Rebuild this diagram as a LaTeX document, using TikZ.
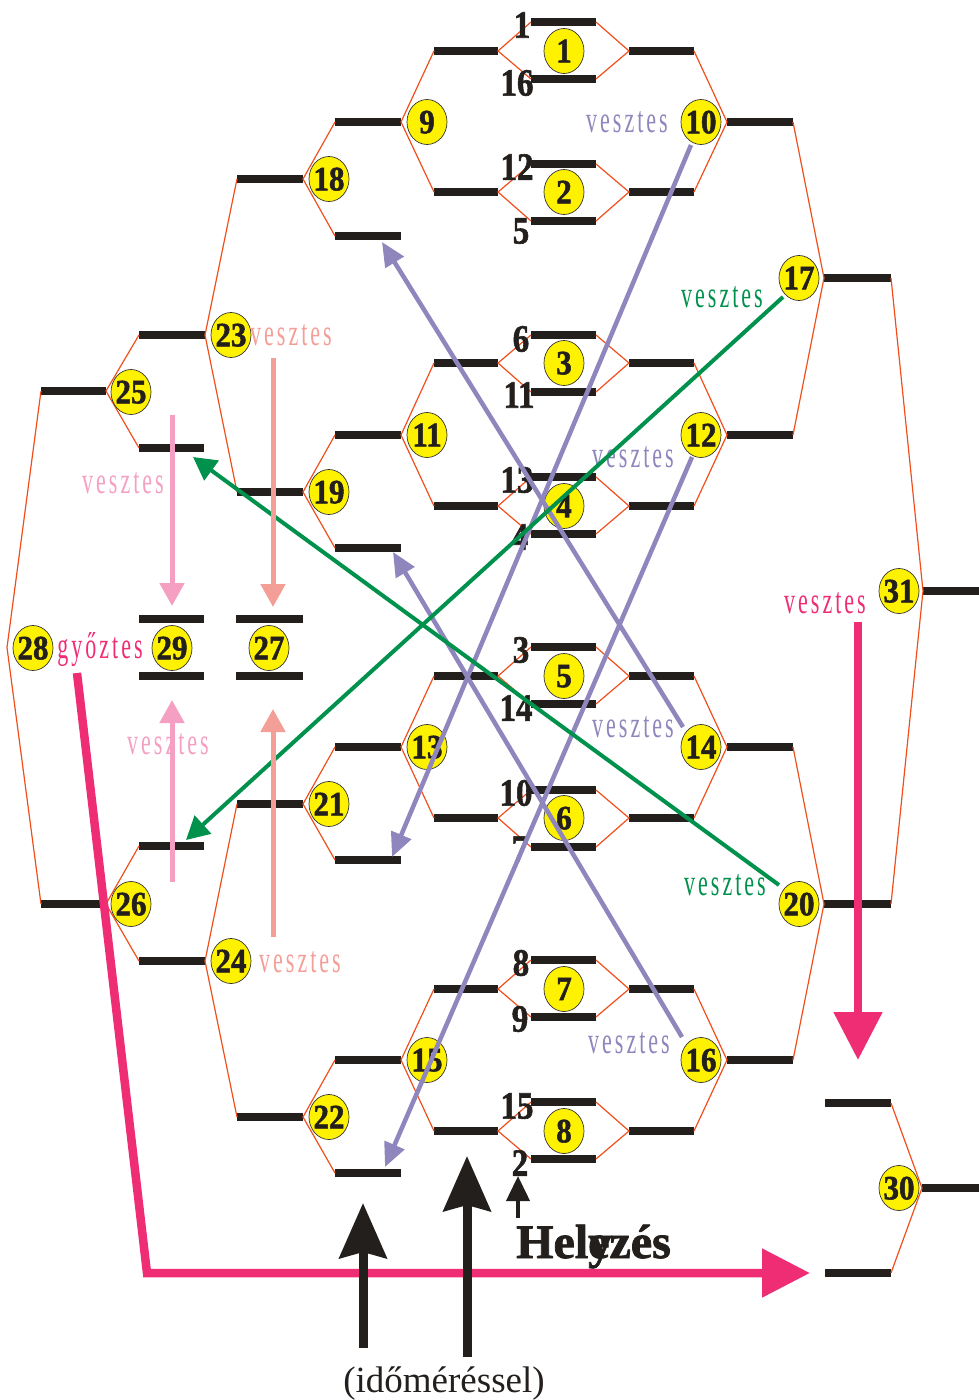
\documentclass[tikz,border=0pt]{standalone}
\usepackage{fontspec}
\setmainfont{Liberation Serif}
\newfontfamily\hvy[UprightFont={* Bold}, FakeBold=1.6]{Liberation Serif}
\usetikzlibrary{shapes.geometric,arrows.meta}
\definecolor{brkc}{RGB}{240,79,28}
\definecolor{barc}{RGB}{35,31,28}
\definecolor{purp}{RGB}{142,134,188}
\definecolor{grn}{RGB}{0,145,76}
\definecolor{salm}{RGB}{244,158,152}
\definecolor{pnk}{RGB}{245,160,194}
\definecolor{mag}{RGB}{238,45,116}
\newcommand\vsc[2]{\scalebox{1}[#1]{#2}}
\newcommand\vword[1]{\scalebox{1}[1.7]{\fontsize{22}{22}\selectfont #1}}
\newcommand\vesz{\vword{v\kern3pt e\kern3pt s\kern3pt z\kern3pt t\kern3pt e\kern3pt s}}
\newcommand\gyoz{\vword{g\kern3pt y\kern3pt ő\kern3pt z\kern3pt t\kern3pt e\kern3pt s}}
\newcommand\cn[1]{\smash{\makebox[0pt]{\raisebox{-0.5\height}{\scalebox{1}[1.1]{#1}}}}}
\newcommand\mybar[4]{\coordinate (#1l) at (#2,#4); \coordinate (#1r) at (#3,#4); \draw[barline] (#1l) -- (#1r);}
\begin{document}
\begin{tikzpicture}[x=1pt,y=-1pt,
  barline/.style={line width=8.5pt, draw=barc},
  brk/.style={draw=brkc, line width=1.2pt, line join=miter},
  mc/.style={ellipse, draw=black!80, line width=0.7pt, fill=yellow, minimum width=40pt, minimum height=45pt, inner sep=0pt, outer sep=0pt, font=\fontsize{31}{31}\selectfont\hvy, text=barc},
  seed/.style={inner sep=0pt, font=\fontsize{33}{33}\selectfont\hvy, text=barc},
  lab/.style={inner sep=0pt, anchor=base},
  parr/.style={draw=purp, line width=4.5pt, -{Triangle[length=24pt,width=21pt]}},
  garr/.style={draw=grn, line width=4pt, -{Triangle[length=23pt,width=24pt]}},
  pkarr/.style={draw=pnk, line width=5pt, -{Triangle[length=23pt,width=24pt]}},
  sarr/.style={draw=salm, line width=5pt, -{Triangle[length=23pt,width=24pt]}},
  marr/.style={draw=mag, line width=8.5pt, line join=miter, -{Triangle[length=48pt,width=47pt]}},
  barr/.style={draw=barc, line width=9pt, -{Stealth[length=55pt,width=47pt,inset=6pt]}},
  sbarr/.style={draw=barc, line width=4pt, -{Triangle[length=25pt,width=23pt]}}
]
\useasboundingbox (0,0) rectangle (979,1400);
% ---------- centre matches 1-8
\mybar{b1t}{531}{596}{22}   \mybar{b1b}{531}{596}{79}   \mybar{b1L}{434}{498}{51}   \mybar{b1R}{629}{694}{51}
\mybar{b2t}{531}{596}{164}  \mybar{b2b}{531}{596}{221}  \mybar{b2L}{434}{498}{192}  \mybar{b2R}{629}{694}{192}
\mybar{b3t}{531}{596}{335}  \mybar{b3b}{531}{596}{392}  \mybar{b3L}{434}{498}{363}  \mybar{b3R}{629}{694}{363}
\mybar{b4t}{531}{596}{477}  \mybar{b4b}{531}{596}{534}  \mybar{b4L}{434}{498}{506}  \mybar{b4R}{629}{694}{506}
\mybar{b5t}{531}{596}{647}  \mybar{b5b}{531}{596}{704}  \mybar{b5L}{434}{498}{676}  \mybar{b5R}{629}{694}{676}
\mybar{b6t}{531}{596}{790}  \mybar{b6b}{531}{596}{847}  \mybar{b6L}{434}{498}{818}  \mybar{b6R}{629}{694}{818}
\mybar{b7t}{531}{596}{960}  \mybar{b7b}{531}{596}{1017} \mybar{b7L}{434}{498}{989}  \mybar{b7R}{629}{694}{989}
\mybar{b8t}{531}{596}{1102} \mybar{b8b}{531}{596}{1159} \mybar{b8L}{434}{498}{1131} \mybar{b8R}{629}{694}{1131}
\foreach \n in {1,...,8}{
  \draw[brk] (b\n tl) -- (b\n Lr) -- (b\n bl);
  \draw[brk] (b\n tr) -- (b\n Rl) -- (b\n br);
}
% ---------- round 2
\mybar{b9}{335}{401}{122}   \mybar{b11}{335}{401}{435}  \mybar{b13}{335}{401}{747}  \mybar{b15}{335}{401}{1060}
\mybar{b10}{727}{793}{122}  \mybar{b12}{727}{793}{435}  \mybar{b14}{727}{793}{747}  \mybar{b16}{727}{793}{1060}
\mybar{l18}{335}{401}{236}  \mybar{l19}{335}{401}{548}  \mybar{l21}{335}{401}{860}  \mybar{l22}{335}{401}{1173}
\draw[brk] (b1Ll) -- (b9r) -- (b2Ll);
\draw[brk] (b3Ll) -- (b11r) -- (b4Ll);
\draw[brk] (b5Ll) -- (b13r) -- (b6Ll);
\draw[brk] (b7Ll) -- (b15r) -- (b8Ll);
\draw[brk] (b1Rr) -- (b10l) -- (b2Rr);
\draw[brk] (b3Rr) -- (b12l) -- (b4Rr);
\draw[brk] (b5Rr) -- (b14l) -- (b6Rr);
\draw[brk] (b7Rr) -- (b16l) -- (b8Rr);
% ---------- round 3
\mybar{b18}{237}{303}{179}  \mybar{b19}{237}{303}{492}  \mybar{b21}{237}{303}{804}  \mybar{b22}{237}{303}{1117}
\mybar{b17}{824}{891}{278}  \mybar{b20}{824}{891}{904}
\draw[brk] (b9l) -- (b18r) -- (l18l);
\draw[brk] (b11l) -- (b19r) -- (l19l);
\draw[brk] (b13l) -- (b21r) -- (l21l);
\draw[brk] (b15l) -- (b22r) -- (l22l);
\draw[brk] (b10r) -- (b17l) -- (b12r);
\draw[brk] (b14r) -- (b20l) -- (b16r);
% ---------- final / 3rd place
\mybar{b31}{923}{979}{591}
\draw[brk] (b17r) -- (b31l) -- (b20r);
\mybar{t30}{825}{891}{1103} \mybar{u30}{825}{891}{1273} \mybar{b30}{922}{979}{1188}
\draw[brk] (t30r) -- (b30l) -- (u30r);
% ---------- left side
\mybar{b23}{139}{205}{335}  \mybar{b24}{139}{205}{961}
\mybar{l25}{139}{204}{448}  \mybar{l26}{139}{204}{846}
\mybar{b25}{41}{106}{391}   \mybar{b26}{41}{106}{904}
\coordinate (v28) at (7,647.5);
\draw[brk] (b18l) -- (b23r) -- (b19l);
\draw[brk] (b21l) -- (b24r) -- (b22l);
\draw[brk] (b23l) -- (b25r) -- (l25l);
\draw[brk] (l26l) -- (b26r) -- (b24l);
\draw[brk] (b25l) -- (v28) -- (b26l);
\mybar{t29}{139}{204}{619}  \mybar{u29}{139}{204}{676}
\mybar{t27}{236}{303}{619}  \mybar{u27}{236}{303}{676}
% ---------- seeds
\node[seed] (s1)  at (522,25)   {\vsc{1.17}{1}};
\node[seed] (s16) at (517,83)   {\vsc{1.17}{16}};
\node[seed] (s12) at (517,167)  {\vsc{1.17}{12}};
\node[seed] (s5)  at (521,231)  {\vsc{1.17}{5}};
\node[seed] (s6)  at (521,339)  {\vsc{1.17}{6}};
\node[seed] (s11) at (519,395)  {\vsc{1.17}{11}};
\node[seed] (s13) at (517,480)  {\vsc{1.17}{13}};
\node[seed] (s4)  at (520,537)  {\vsc{1.17}{4}};
\node[seed] (s3)  at (521,650)  {\vsc{1.17}{3}};
\node[seed] (s14) at (516,708)  {\vsc{1.17}{14}};
\node[seed] (s10) at (516,793)  {\vsc{1.17}{10}};
\node[seed] (s7)  at (520,849)  {\vsc{1.17}{7}};
\node[seed] (s8)  at (521,963)  {\vsc{1.17}{8}};
\node[seed] (s9)  at (520,1019) {\vsc{1.17}{9}};
\node[seed] (s15) at (517,1106) {\vsc{1.17}{15}};
\node[seed] (s2)  at (520,1163) {\vsc{1.17}{2}};
% ---------- match circles
\node[mc] (c1) at (564,51)   {\cn{1}};
\node[mc] (c2) at (564,192)  {\cn{2}};
\node[mc] (c3) at (564,363)  {\cn{3}};
\node[mc] (c4) at (564,506)  {\cn{4}};
\node[mc] (c5) at (564,676)  {\cn{5}};
\node[mc] (c6) at (564,818)  {\cn{6}};
\node[mc] (c7) at (564,989)  {\cn{7}};
\node[mc] (c8) at (564,1131) {\cn{8}};
\node[mc] (c9)  at (427,122)  {\cn{9}};
\node[mc] (c11) at (427,435)  {\cn{11}};
\node[mc] (c13) at (427,747)  {\cn{13}};
\node[mc] (c15) at (427,1060) {\cn{15}};
\node[mc] (c10) at (701,122)  {\cn{10}};
\node[mc] (c12) at (701,435)  {\cn{12}};
\node[mc] (c14) at (701,747)  {\cn{14}};
\node[mc] (c16) at (701,1060) {\cn{16}};
\node[mc] (c18) at (329,179)  {\cn{18}};
\node[mc] (c19) at (329,492)  {\cn{19}};
\node[mc] (c21) at (329,804)  {\cn{21}};
\node[mc] (c22) at (329,1117) {\cn{22}};
\node[mc] (c17) at (799,278)  {\cn{17}};
\node[mc] (c20) at (799,904)  {\cn{20}};
\node[mc] (c31) at (899,591)  {\cn{31}};
\node[mc] (c30) at (899,1188) {\cn{30}};
\node[mc] (c23) at (231,335)  {\cn{23}};
\node[mc] (c24) at (231,961)  {\cn{24}};
\node[mc] (c25) at (131,392)  {\cn{25}};
\node[mc] (c26) at (131,904)  {\cn{26}};
\node[mc] (c28) at (33,648)   {\cn{28}};
\node[mc] (c29) at (172,648)  {\cn{29}};
\node[mc] (c27) at (269,648)  {\cn{27}};
% ---------- labels
\node[lab, text=purp] (v10) at (627,132)  {\vesz};
\node[lab, text=purp] (v12) at (633,467)  {\vesz};
\node[lab, text=purp] (v14) at (633,737)  {\vesz};
\node[lab, text=purp] (v16) at (629,1053) {\vesz};
\node[lab, text=grn]  (v17) at (722,307)  {\vesz};
\node[lab, text=grn]  (v20) at (725,895)  {\vesz};
\node[lab, text=salm] (v23) at (291,345)  {\vesz};
\node[lab, text=salm] (v24) at (300,972)  {\vesz};
\node[lab, text=pnk]  (v25) at (123,493)  {\vesz};
\node[lab, text=pnk]  (v26) at (168,754)  {\vesz};
\node[lab, text=mag]  (v31) at (825,613)  {\vesz};
\node[lab, text=mag]  (gy)  at (100,658)  {\gyoz};
% ---------- purple loser arrows
\coordinate (pa10) at (691,145);  \coordinate (pe10) at (392,857);
\coordinate (pa12) at (692,457);  \coordinate (pe12) at (385,1167);
\coordinate (pa14) at (683,727);  \coordinate (pe14) at (382,242);
\coordinate (pa16) at (682,1037); \coordinate (pe16) at (393,552);
\draw[parr] (pa10) -- (pe10);
\draw[parr] (pa12) -- (pe12);
\draw[parr] (pa14) -- (pe14);
\draw[parr] (pa16) -- (pe16);
% ---------- green loser arrows
\coordinate (ga17) at (783,297); \coordinate (ge17) at (186,840);
\coordinate (ga20) at (779,885); \coordinate (ge20) at (193,457);
\draw[garr] (ga17) -- (ge17);
\draw[garr] (ga20) -- (ge20);
% ---------- pink / salmon arrows
\coordinate (pk1a) at (172,415); \coordinate (pk1e) at (172,606);
\coordinate (pk2a) at (172,882); \coordinate (pk2e) at (172,700);
\coordinate (sa1a) at (273,358); \coordinate (sa1e) at (273,607);
\coordinate (sa2a) at (273,937); \coordinate (sa2e) at (273,709);
\draw[pkarr] (pk1a) -- (pk1e);
\draw[pkarr] (pk2a) -- (pk2e);
\draw[sarr] (sa1a) -- (sa1e);
\draw[sarr] (sa2a) -- (sa2e);
% ---------- magenta arrows
\coordinate (ma) at (77,673); \coordinate (mb) at (147,1273); \coordinate (mc) at (810,1273);
\draw[marr] (ma) -- (mb) -- (mc);
\coordinate (md) at (858,622); \coordinate (me) at (858,1060);
\draw[marr] (md) -- (me);
% ---------- black arrows and texts
\node[inner sep=0pt, anchor=base west, font=\fontsize{48}{48}\selectfont\hvy, text=barc] (hely) at (516,1258) {Hel\rlap{y}ezés};
\node[inner sep=0pt, anchor=base, font=\fontsize{37}{37}\selectfont, text=barc] (idom) at (444,1392) {(időméréssel)};
\coordinate (ka) at (363,1348); \coordinate (ke) at (363,1203);
\coordinate (kb) at (467,1357); \coordinate (kf) at (467,1156);
\coordinate (kc) at (518,1218); \coordinate (kg) at (518,1176);
\draw[barr] (ka) -- (ke);
\draw[barr] (kb) -- (kf);
\draw[sbarr] (kc) -- (kg);
\end{tikzpicture}
\end{document}
